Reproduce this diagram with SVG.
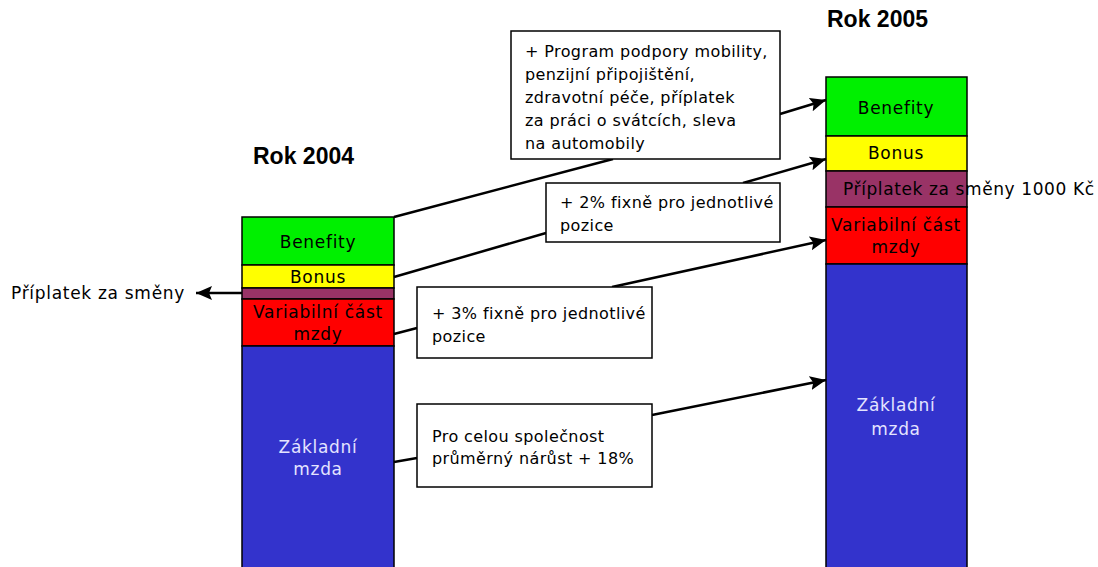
<svg xmlns="http://www.w3.org/2000/svg" width="1098" height="567" viewBox="0 0 1098 567">
<defs>
<style>
.seg{stroke:#000;stroke-width:1.5}
.t{font-family:"DejaVu Sans",sans-serif;font-size:17px;letter-spacing:0.7px;fill:#000}
.c{text-anchor:middle}
.w{fill:#e4e4ff}
.bx{fill:#fff;stroke:#000;stroke-width:1.5}
.bt{font-family:"DejaVu Sans",sans-serif;font-size:16px;letter-spacing:0.4px;fill:#000}
.h{font-family:"Liberation Sans",Arial,sans-serif;font-size:23px;font-weight:bold;fill:#000}
.ln{fill:none;stroke:#000;stroke-width:2.5}
</style>
<marker id="ah" markerUnits="userSpaceOnUse" markerWidth="18" markerHeight="16" refX="16" refY="8" orient="auto">
<path d="M0,1 L16,8 L0,15 L3,8 Z" fill="#000"/>
</marker>
</defs>
<rect width="1098" height="567" fill="#fff"/>
<g id="title2004"><text class="h" x="253" y="164">Rok 2004</text></g>
<g id="title2005"><text class="h" x="827" y="27">Rok 2005</text></g>
<g id="bar2004">
<rect class="seg" x="242" y="217" width="152" height="48" fill="#00f000"/>
<rect class="seg" x="242" y="265" width="152" height="23" fill="#ffff00"/>
<rect class="seg" x="242" y="288" width="152" height="11" fill="#993366"/>
<rect class="seg" x="242" y="299" width="152" height="47" fill="#ff0000"/>
<rect class="seg" x="242" y="346" width="152" height="230" fill="#3333cc"/>
<text class="t c" x="318" y="248">Benefity</text>
<text class="t c" x="318" y="283">Bonus</text>
<text class="t c" x="318" y="318">Variabilní část</text>
<text class="t c" x="318" y="340">mzdy</text>
<text class="t c w" x="318" y="453">Základní</text>
<text class="t c w" x="318" y="475">mzda</text>
</g>
<g id="bar2005">
<rect class="seg" x="826" y="77" width="141" height="59" fill="#00f000"/>
<rect class="seg" x="826" y="136" width="141" height="35" fill="#ffff00"/>
<rect class="seg" x="826" y="171" width="141" height="36" fill="#993366"/>
<rect class="seg" x="826" y="207" width="141" height="57" fill="#ff0000"/>
<rect class="seg" x="826" y="264" width="141" height="312" fill="#3333cc"/>
<text class="t c" x="896" y="114">Benefity</text>
<text class="t c" x="896" y="159">Bonus</text>
<text class="t" x="843" y="195" style="letter-spacing:0.6px">Příplatek za směny 1000 Kč</text>
<text class="t c" x="896" y="231">Variabilní část</text>
<text class="t c" x="896" y="253">mzdy</text>
<text class="t c w" x="896" y="411">Základní</text>
<text class="t c w" x="896" y="435">mzda</text>
</g>
<g id="label-priplatek"><text class="t" x="11" y="299">Příplatek za směny</text></g>
<g id="connectors">
<line class="ln" x1="394" y1="217" x2="613" y2="159"/>
<line class="ln" x1="780" y1="114" x2="826" y2="100" marker-end="url(#ah)"/>
<line class="ln" x1="394" y1="277" x2="546" y2="233"/>
<line class="ln" x1="743" y1="183" x2="826" y2="159" marker-end="url(#ah)"/>
<line class="ln" x1="394" y1="334" x2="417" y2="328"/>
<line class="ln" x1="612" y1="287" x2="826" y2="240" marker-end="url(#ah)"/>
<line class="ln" x1="394" y1="462" x2="417" y2="458"/>
<line class="ln" x1="652" y1="415" x2="826" y2="380" marker-end="url(#ah)"/>
<line class="ln" x1="242" y1="293" x2="196" y2="293" stroke-width="2" marker-end="url(#ah)"/>
</g>
<g id="box1">
<rect class="bx" x="511" y="31" width="269" height="128"/>
<text class="bt" x="525" y="57">+ Program podpory mobility,</text>
<text class="bt" x="525" y="80">penzijní připojištění,</text>
<text class="bt" x="525" y="103">zdravotní péče, příplatek</text>
<text class="bt" x="525" y="126">za práci o svátcích, sleva</text>
<text class="bt" x="525" y="149">na automobily</text>
</g>
<g id="box2">
<rect class="bx" x="546" y="183" width="234" height="59"/>
<text class="bt" x="560" y="208">+ 2% fixně pro jednotlivé</text>
<text class="bt" x="560" y="231">pozice</text>
</g>
<g id="box3">
<rect class="bx" x="417" y="287" width="235" height="71"/>
<text class="bt" x="432" y="319">+ 3% fixně pro jednotlivé</text>
<text class="bt" x="432" y="342">pozice</text>
</g>
<g id="box4">
<rect class="bx" x="417" y="404" width="235" height="83"/>
<text class="bt" x="432" y="442">Pro celou společnost</text>
<text class="bt" x="432" y="464">průměrný nárůst + 18%</text>
</g>
</svg>
